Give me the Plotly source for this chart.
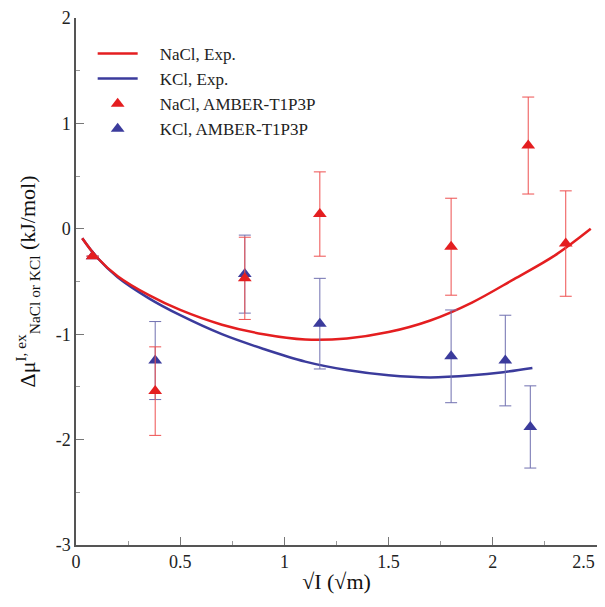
import plotly.graph_objects as go

nacl_exp_x = [0.03, 0.1, 0.2, 0.35, 0.5, 0.7, 0.9, 1.1, 1.3, 1.5, 1.7, 1.9, 2.1, 2.3, 2.47]
nacl_exp_y = [-0.09, -0.27, -0.45, -0.63, -0.77, -0.91, -1.0, -1.05, -1.04, -0.98, -0.87, -0.70, -0.48, -0.25, 0.0]
kcl_exp_x = [0.03, 0.1, 0.2, 0.35, 0.5, 0.7, 0.9, 1.1, 1.3, 1.5, 1.7, 1.9, 2.05, 2.19]
kcl_exp_y = [-0.09, -0.27, -0.46, -0.66, -0.82, -1.0, -1.14, -1.26, -1.34, -1.39, -1.41, -1.39, -1.36, -1.32]

# Simulation points
nacl_sim_x = [0.08, 0.38, 0.81, 1.17, 1.80, 2.17, 2.35]
nacl_sim_y = [-0.26, -1.54, -0.47, 0.14, -0.17, 0.79, -0.14]
nacl_sim_err = [0.0, 0.42, 0.39, 0.40, 0.46, 0.46, 0.50]
kcl_sim_x = [0.08, 0.38, 0.81, 1.17, 1.80, 2.06, 2.18]
kcl_sim_y = [-0.26, -1.25, -0.43, -0.90, -1.21, -1.25, -1.88]
kcl_sim_err = [0.0, 0.37, 0.37, 0.43, 0.44, 0.43, 0.39]

# Tick labels
x_tickvals = [0, 0.5, 1, 1.5, 2, 2.5]
x_ticktext = ["0", "0.5", "1", "1.5", "2", "2.5" + "\u00a0" * 6]
y_tickvals = [-3, -2, -1, 0, 1, 2]
y_ticktext = ["-3", "-2", "-1", "0", "1", "2"]

RED = "#e41e20"
BLUE = "#3b3b9c"
FONT = "Liberation Serif"
PAD = "\u00a0\u00a0\u00a0\u00a0"

fig = go.Figure()
fig.add_trace(go.Scatter(x=kcl_exp_x, y=kcl_exp_y, mode="lines", name=PAD + "KCl, Exp.",
                         line=dict(color=BLUE, width=2.5, shape="spline"), legendrank=2))
fig.add_trace(go.Scatter(x=nacl_exp_x, y=nacl_exp_y, mode="lines", name=PAD + "NaCl, Exp.",
                         line=dict(color=RED, width=2.5, shape="spline"), legendrank=1))
fig.add_trace(go.Scatter(x=kcl_sim_x, y=kcl_sim_y, mode="markers", name=PAD + "KCl, AMBER-T1P3P",
                         marker=dict(symbol="triangle-up", size=12, color=BLUE),
                         error_y=dict(type="data", array=kcl_sim_err, color="#7070b0", thickness=1, width=6),
                         legendrank=4))
fig.add_trace(go.Scatter(x=nacl_sim_x, y=nacl_sim_y, mode="markers", name=PAD + "NaCl, AMBER-T1P3P",
                         marker=dict(symbol="triangle-up", size=12, color=RED),
                         error_y=dict(type="data", array=nacl_sim_err, color="#ee5050", thickness=1, width=6),
                         legendrank=3))

axis_common = dict(
    showgrid=False, zeroline=False, showline=True, linecolor="#555555", linewidth=1.5,
    ticks="inside", ticklen=8, tickcolor="#777777", tickwidth=1,
    tickfont=dict(family=FONT, size=18, color="#222222"),
    ticklabeloverflow="allow", automargin=False,
)
fig.update_xaxes(range=[0, 2.5],
                 minor=dict(ticks="inside", ticklen=4, dtick=0.25, tickcolor="#999999"),
                 tickvals=x_tickvals, ticktext=x_ticktext,
                 title=dict(text="√I (√m)", font=dict(family=FONT, size=22, color="#111111"), standoff=2),
                 **axis_common)
fig.update_yaxes(range=[-3, 2],
                 minor=dict(ticks="inside", ticklen=4, dtick=0.5, tickcolor="#999999"),
                 tickvals=y_tickvals, ticktext=y_ticktext,
                 title=dict(text="Δμ<sup>I, ex</sup><sub>NaCl or KCl</sub> (kJ/mol)",
                            font=dict(family=FONT, size=22, color="#111111"), standoff=14),
                 **axis_common)

fig.update_layout(
    width=589, height=591,
    margin=dict(l=68, r=0, t=10, b=54),
    paper_bgcolor="white", plot_bgcolor="white",
    showlegend=True,
    legend=dict(x=0.032, y=0.966, xanchor="left", yanchor="top",
                bgcolor="rgba(0,0,0,0)", font=dict(family=FONT, size=17, color="#222222"),
                itemwidth=40, tracegroupgap=0),
)

fig.write_html("out.html")
